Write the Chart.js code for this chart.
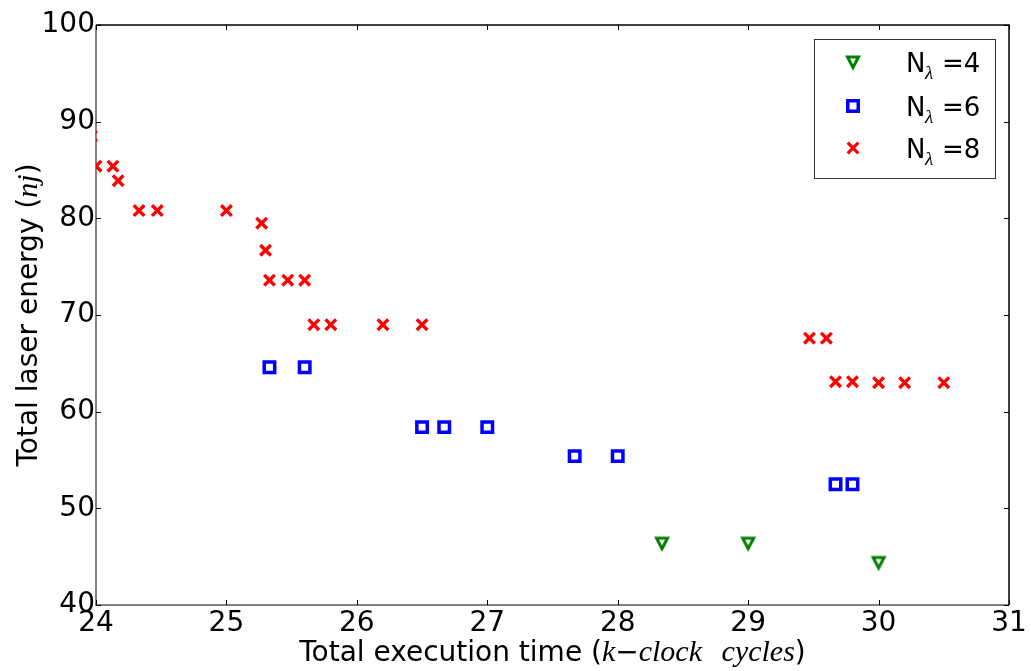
<!DOCTYPE html>
<html><head><meta charset="utf-8">
<script src="https://cdn.jsdelivr.net/npm/chart.js@4.4.0/dist/chart.umd.min.js"></script>
<style>html,body{margin:0;padding:0;background:#fff;overflow:hidden}canvas{display:block}</style>
</head><body>
<canvas id="c" width="1031" height="671"></canvas>
<script>
// ---- data ----
const legendNames = ['4', '6', '8'];
const n4X = [28.34, 29.0, 30.0];
const n4Y = [46.4, 46.4, 44.4];
const n6X = [25.33, 25.6, 26.5, 26.67, 27.0, 27.67, 28.0, 29.67, 29.8];
const n6Y = [64.6, 64.6, 58.4, 58.4, 58.4, 55.4, 55.4, 52.5, 52.5];
const n8X = [23.965, 24.0, 24.13, 24.17, 24.33, 24.47, 25.0, 25.27, 25.3, 25.33, 25.47, 25.6, 25.67, 25.8, 26.2, 26.5, 29.47, 29.6, 29.67, 29.8, 30.0, 30.2, 30.5];
const n8Y = [88.5, 85.4, 85.4, 83.9, 80.8, 80.8, 80.8, 79.5, 76.7, 73.6, 73.6, 73.6, 69.0, 69.0, 69.0, 69.0, 67.6, 67.6, 63.1, 63.1, 63.0, 63.0, 63.0];
const xTicks = [24, 25, 26, 27, 28, 29, 30, 31];
const yTicks = [40, 50, 60, 70, 80, 90, 100];
const xTitleParts = ['Total execution time (', 'k', '\u2212', 'clock', '\u2002\u2009', 'cycles', ')'];
const yTitleParts = ['Total laser energy (', 'nj', ')'];

const SANS = '"DejaVu Sans", sans-serif';
const SERIF = '"Liberation Serif", "DejaVu Serif", serif';
const zip = (xs, ys) => xs.map((x, i) => ({x, y: ys[i]}));

function makeTri() {
  const c = document.createElement('canvas');
  c.width = 22; c.height = 22;
  const g = c.getContext('2d');
  g.strokeStyle = '#008000'; g.lineWidth = 3; g.lineJoin = 'miter';
  g.beginPath();
  g.moveTo(11 - 5.5, 11 - 5); g.lineTo(11 + 5.5, 11 - 5); g.lineTo(11, 11 + 5.5); g.closePath();
  g.fillStyle = '#fff'; g.fill(); g.stroke();
  return c;
}
const triImg = makeTri();

function drawMarker(ctx, kind, x, y) {
  ctx.save();
  if (kind === 0) {
    ctx.drawImage(triImg, x - 11, y - 11);
  } else if (kind === 1) {
    ctx.strokeStyle = '#0000ff'; ctx.lineWidth = 3.5;
    const s = 7.4 * Math.SQRT1_2;
    ctx.strokeRect(x - s, y - s, 2 * s, 2 * s);
  } else {
    ctx.strokeStyle = '#ff0000'; ctx.lineWidth = 3.2;
    const a = 7.5 * Math.SQRT1_2;
    ctx.beginPath();
    ctx.moveTo(x - a, y - a); ctx.lineTo(x + a, y + a);
    ctx.moveTo(x + a, y - a); ctx.lineTo(x - a, y + a);
    ctx.stroke();
  }
  ctx.restore();
}

function drawSegs(ctx, segs, cx, cy, rotate) {
  let total = 0;
  segs.forEach(s => { ctx.font = s.font; s.w = ctx.measureText(s.t).width; total += s.w; });
  ctx.save();
  ctx.translate(cx, cy);
  if (rotate) ctx.rotate(-Math.PI / 2);
  ctx.fillStyle = '#000'; ctx.textAlign = 'left'; ctx.textBaseline = 'alphabetic';
  let x = -total / 2;
  segs.forEach(s => { ctx.font = s.font; ctx.fillText(s.t, x, 0); x += s.w; });
  ctx.restore();
}

const decor = {
  id: 'decor',
  beforeDatasetsDraw(chart) {
    const ctx = chart.ctx, a = chart.chartArea;
    const xs = chart.scales.x, ys = chart.scales.y;
    ctx.save();
    ctx.lineWidth = 2; ctx.strokeStyle = '#808080';
    ctx.beginPath();
    ctx.moveTo(a.left, a.top); ctx.lineTo(a.left, a.bottom); ctx.lineTo(a.right, a.bottom);
    ctx.stroke();
    ctx.lineWidth = 1.5; ctx.strokeStyle = '#000';
    ctx.beginPath();
    ctx.moveTo(a.left, a.top); ctx.lineTo(a.right, a.top); ctx.lineTo(a.right, a.bottom);
    ctx.stroke();
    const TL = 5;
    ctx.lineWidth = 1; ctx.strokeStyle = '#000';
    ctx.beginPath();
    xTicks.forEach(v => {
      const px = Math.round(xs.getPixelForValue(v)) + 0.5;
      ctx.moveTo(px, a.bottom); ctx.lineTo(px, a.bottom - TL);
      ctx.moveTo(px, a.top); ctx.lineTo(px, a.top + TL);
    });
    yTicks.forEach(v => {
      const py = Math.round(ys.getPixelForValue(v)) + 0.5;
      ctx.moveTo(a.left, py); ctx.lineTo(a.left + TL, py);
      ctx.moveTo(a.right, py); ctx.lineTo(a.right - TL, py);
    });
    ctx.stroke();
    ctx.restore();
  },
  afterDatasetsDraw(chart) {
    const ctx = chart.ctx;
    ctx.save();
    ctx.fillStyle = '#fff';
    ctx.fillRect(814, 39, 181, 139);
    ctx.strokeStyle = '#333'; ctx.lineWidth = 1;
    ctx.strokeRect(814.5, 39.5, 181, 139);
    const rows = [62, 106, 148];
    legendNames.forEach((nm, i) => {
      drawMarker(ctx, i, 853, rows[i]);
      const base = rows[i] + 10;
      ctx.fillStyle = '#000'; ctx.textAlign = 'left'; ctx.textBaseline = 'alphabetic';
      ctx.font = '26px ' + SANS;
      ctx.fillText('N', 906, base);
      ctx.font = 'italic 19px ' + SERIF;
      ctx.fillText('\u03bb', 925, base + 7);
      ctx.font = '26px ' + SANS;
      ctx.fillText('=' + nm, 942, base);
    });
    ctx.restore();
  },
  afterDraw(chart) {
    const ctx = chart.ctx, a = chart.chartArea;
    const R = '28px ' + SANS, I = 'italic 30px ' + SERIF;
    drawSegs(ctx, xTitleParts.map((t, i) => ({t, font: (i === 1 || i === 3 || i === 5) ? I : R})),
      (a.left + a.right) / 2, 661, false);
    drawSegs(ctx, yTitleParts.map((t, i) => ({t, font: i === 1 ? I : R})),
      37, (a.top + a.bottom) / 2, true);
  }
};

new Chart(document.getElementById('c'), {
  type: 'scatter',
  data: {
    datasets: [
      {label: 'N\u03bb=' + legendNames[0], data: zip(n4X, n4Y), pointStyle: triImg, pointRadius: 7,
       borderColor: '#008000', backgroundColor: '#fff'},
      {label: 'N\u03bb=' + legendNames[1], data: zip(n6X, n6Y), pointStyle: 'rect', pointRadius: 7.4,
       borderWidth: 3.5, borderColor: '#0000ff', backgroundColor: 'rgba(0,0,0,0)'},
      {label: 'N\u03bb=' + legendNames[2], data: zip(n8X, n8Y), pointStyle: 'crossRot', pointRadius: 7.5,
       borderWidth: 3.4, borderColor: '#ff0000', backgroundColor: '#ff0000',
       clip: {left: 0, top: false, right: false, bottom: false}}
    ]
  },
  options: {
    responsive: false,
    devicePixelRatio: 1,
    animation: false,
    events: [],
    layout: {padding: {left: 0, right: 22, top: 25, bottom: 0}},
    plugins: {legend: {display: false}, tooltip: {enabled: false}},
    scales: {
      x: {
        type: 'linear', min: 24, max: 31,
        afterBuildTicks: s => { s.ticks = xTicks.map(v => ({value: v})); },
        afterFit: s => { s.height = 66; },
        grid: {display: false, drawTicks: false},
        border: {display: false},
        ticks: {color: '#000', font: {family: 'DejaVu Sans', size: 28}, padding: 2, maxRotation: 0,
                autoSkip: false, callback: v => String(v)}
      },
      y: {
        type: 'linear', min: 40, max: 100,
        afterBuildTicks: s => { s.ticks = yTicks.map(v => ({value: v})); },
        afterFit: s => { s.width = 96; },
        grid: {display: false, drawTicks: false},
        border: {display: false},
        ticks: {color: '#000', font: {family: 'DejaVu Sans', size: 28}, padding: 1,
                autoSkip: false, callback: v => String(v)}
      }
    }
  },
  plugins: [decor]
});
</script>
</body></html>
